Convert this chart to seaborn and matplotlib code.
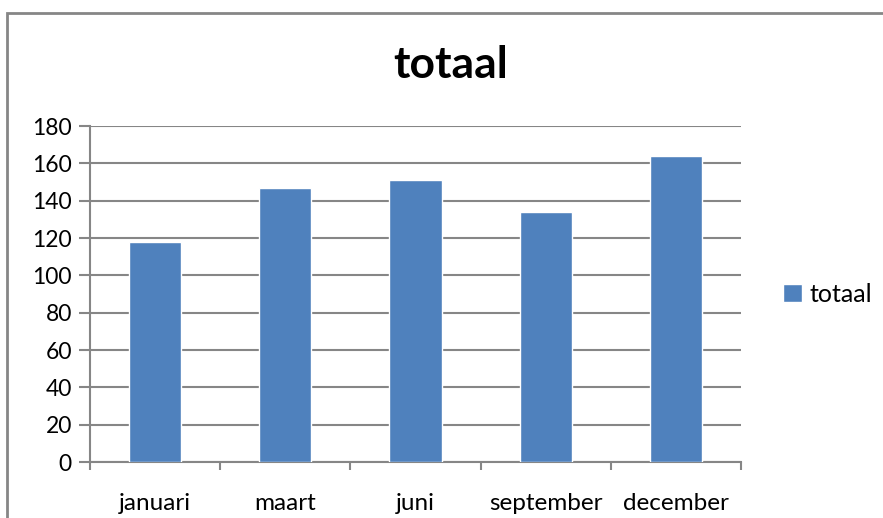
import pandas as pd
import seaborn as sns
import matplotlib.pyplot as plt
from matplotlib.patches import Rectangle

# Data
months = ['januari', 'maart', 'juni', 'september', 'december']
totals = [118, 147, 151, 134, 164]
y_ticks = [0, 20, 40, 60, 80, 100, 120, 140, 160, 180]

df = pd.DataFrame({'maand': months, 'totaal': totals})

sns.set_style("white")
plt.rcParams['font.family'] = ['Lato', 'DejaVu Sans']
plt.rcParams['text.color'] = 'black'

grid_color = '#868686'
bar_color = '#4F81BD'

fig = plt.figure(figsize=(8.83, 5.18), dpi=100)
ax = fig.add_axes([0.1019, 0.1081, 0.7373, 0.6486])

sns.barplot(data=df, x='maand', y='totaal', color=bar_color, width=0.4,
            saturation=1, label='totaal', ax=ax, zorder=3)

# y axis
ax.set_ylim(0, 180)
ax.set_yticks(y_ticks)
ax.yaxis.grid(True, color=grid_color, linewidth=1.5)
ax.set_axisbelow(True)
ax.tick_params(axis='y', left=True, length=8, width=1.5, color=grid_color,
               labelsize=16.5, pad=5, labelcolor='black')

# x axis: ticks between categories
ax.set_xlim(-0.5, len(months) - 0.5)
ax.set_xticks([i - 0.5 for i in range(len(months) + 1)], minor=True)
ax.tick_params(axis='x', which='minor', bottom=True, length=6, width=1.5,
               color=grid_color)
ax.tick_params(axis='x', which='major', bottom=False, labelsize=17.5, pad=19,
               labelcolor='black')

ax.set_xlabel('')
ax.set_ylabel('')

for side in ['top', 'right']:
    ax.spines[side].set_visible(False)
for side in ['left', 'bottom']:
    ax.spines[side].set_color(grid_color)
    ax.spines[side].set_linewidth(1.5)

# chart title, centred on the whole chart area
fig.text(451 / 883, (518 - 65) / 518, 'totaal', fontsize=32, fontweight='bold',
         ha='center', va='center', color='black')

ax.legend(loc='center left', bbox_to_anchor=(1.03, 0.5), frameon=False,
          fontsize=18, handlelength=0.75, handleheight=0.75, handletextpad=0.3,
          labelcolor='black')

# chart frame (runs off the right and bottom edges)
fig.patches.append(Rectangle((6.5 / 883, -0.1), 1.2, (518 - 13) / 518 + 0.1,
                             transform=fig.transFigure, fill=False,
                             edgecolor=grid_color, linewidth=2))

plt.savefig('out.png', dpi=100)
